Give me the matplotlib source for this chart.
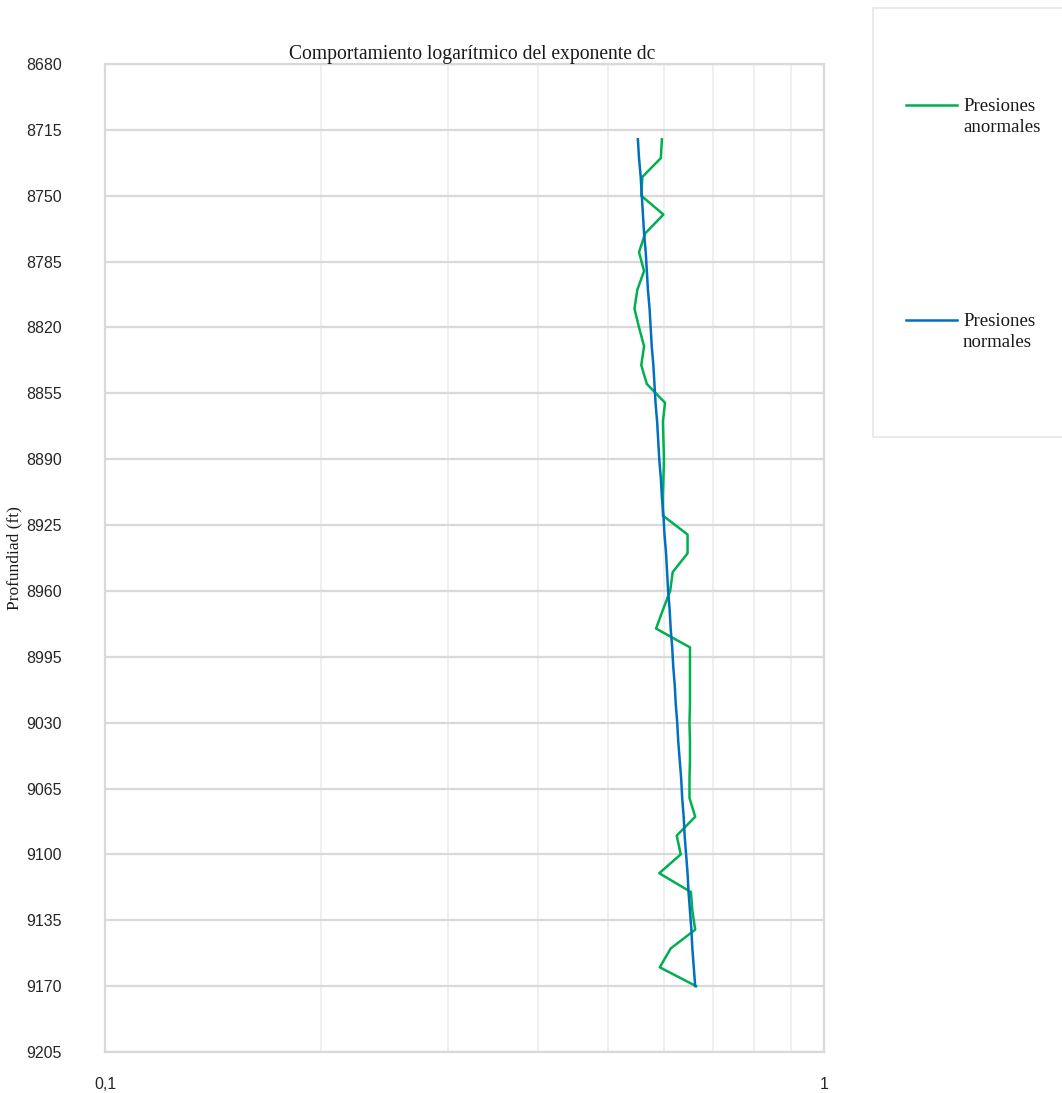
import matplotlib
matplotlib.use("Agg")
import numpy as np
import matplotlib.pyplot as plt
from matplotlib.patches import Rectangle
from matplotlib.ticker import FixedLocator, NullFormatter
from matplotlib.legend_handler import HandlerLine2D

# depth samples every 10 ft
depth = [8720, 8730, 8740, 8750, 8760, 8770, 8780, 8790, 8800, 8810,
         8820, 8830, 8840, 8850, 8860, 8870, 8880, 8890, 8900, 8910,
         8920, 8930, 8940, 8950, 8960, 8970, 8980, 8990, 9000, 9010,
         9020, 9030, 9040, 9050, 9060, 9070, 9080, 9090, 9100, 9110,
         9120, 9130, 9140, 9150, 9160, 9170]

# corrected d-exponent (abnormal pressure trace)
dc_anormal = [0.595, 0.593, 0.559, 0.557, 0.598, 0.564, 0.553, 0.562, 0.550, 0.545,
              0.553, 0.562, 0.557, 0.567, 0.601, 0.597, 0.598, 0.599, 0.598, 0.597,
              0.597, 0.646, 0.646, 0.616, 0.611, 0.597, 0.584, 0.651, 0.651, 0.651,
              0.651, 0.650, 0.651, 0.651, 0.650, 0.650, 0.662, 0.624, 0.632, 0.590,
              0.653, 0.656, 0.662, 0.612, 0.591, 0.664]

# normal compaction trend
dc_normal = [0.551, 0.553, 0.556, 0.558, 0.560, 0.562, 0.565, 0.567, 0.569, 0.572,
             0.574, 0.576, 0.579, 0.581, 0.583, 0.586, 0.588, 0.590, 0.593, 0.595,
             0.598, 0.600, 0.603, 0.605, 0.607, 0.610, 0.612, 0.615, 0.617, 0.620,
             0.622, 0.625, 0.627, 0.630, 0.633, 0.635, 0.638, 0.640, 0.643, 0.646,
             0.648, 0.651, 0.654, 0.656, 0.659, 0.662]

y_ticks = list(range(8680, 9206, 35))
x_ticks = [0.1, 1]
x_tick_labels = ["0,1", "1"]

sans = ["Liberation Sans", "DejaVu Sans"]
serif = ["Liberation Serif", "DejaVu Serif"]


class TopLineHandler(HandlerLine2D):
    """Legend key drawn level with the first line of a two-line label."""

    def create_artists(self, legend, orig_handle, xdescent, ydescent,
                       width, height, fontsize, trans):
        artists = super().create_artists(legend, orig_handle, xdescent, ydescent,
                                         width, height, fontsize, trans)
        for a in artists:
            a.set_ydata(np.asarray(a.get_ydata()) + 0.62 * fontsize)
        return artists


W, H = 1062, 1093
fig = plt.figure(figsize=(W / 100, H / 100), dpi=100)
ax = fig.add_axes([105 / W, 1 - 1052 / H, (824 - 105) / W, (1052 - 64) / H])

l1, = ax.plot(dc_anormal, depth, color="#00b050", lw=1.8, label="Presiones\nanormales", zorder=3)
l2, = ax.plot(dc_normal, depth, color="#0070c0", lw=1.8, label="Presiones\nnormales", zorder=4)

ax.set_xscale("log")
ax.set_xlim(0.1, 1)
ax.set_ylim(9205, 8680)
ax.set_yticks(y_ticks)
ax.set_xticks(x_ticks)
ax.set_xticklabels(x_tick_labels)
ax.xaxis.set_minor_locator(FixedLocator([0.2, 0.3, 0.4, 0.5, 0.6, 0.7, 0.8, 0.9]))
ax.xaxis.set_minor_formatter(NullFormatter())

ax.grid(True, axis="y", which="major", color="#d9d9d9", lw=1.6)
ax.grid(True, axis="x", which="minor", color="#ececec", lw=1.2)
ax.set_axisbelow(True)
for side in ["left", "right", "top", "bottom"]:
    ax.spines[side].set_color("#d9d9d9")
    ax.spines[side].set_linewidth(1.6)

ax.tick_params(axis="both", which="both", length=0)
ax.tick_params(axis="y", pad=31)
ax.tick_params(axis="x", pad=18)
for lab in ax.get_xticklabels() + ax.get_yticklabels():
    lab.set_fontfamily(sans)
    lab.set_fontsize(11.5)
    lab.set_color("#262626")

ax.set_title("Comportamiento logarítmico del exponente dc", fontfamily=serif,
             fontsize=14.1, color="#1a1a1a", pad=3, x=0.51)
ax.set_ylabel("Profundiad (ft)", fontfamily=serif, fontsize=12.5, color="#1a1a1a", labelpad=3)

# legend panel on the right
fig.patches.append(Rectangle((873 / W, 1 - 437 / H), 200 / W, (437 - 8) / H,
                             transform=fig.transFigure, facecolor="none",
                             edgecolor="#e6e6e6", lw=1.2, zorder=0))
leg = ax.legend(handles=[l1, l2], loc="upper left", bbox_to_anchor=(906 / W, 1 - 98 / H),
                bbox_transform=fig.transFigure, frameon=False,
                prop={"family": serif, "size": 13.5},
                handler_map={l1: TopLineHandler(), l2: TopLineHandler()},
                handlelength=2.72, handletextpad=0.32, borderpad=0,
                borderaxespad=0, labelspacing=9.45)
for t in leg.get_texts():
    t.set_color("#1a1a1a")
    t.set_linespacing(1.3)

fig.savefig("out.png", dpi=100)
